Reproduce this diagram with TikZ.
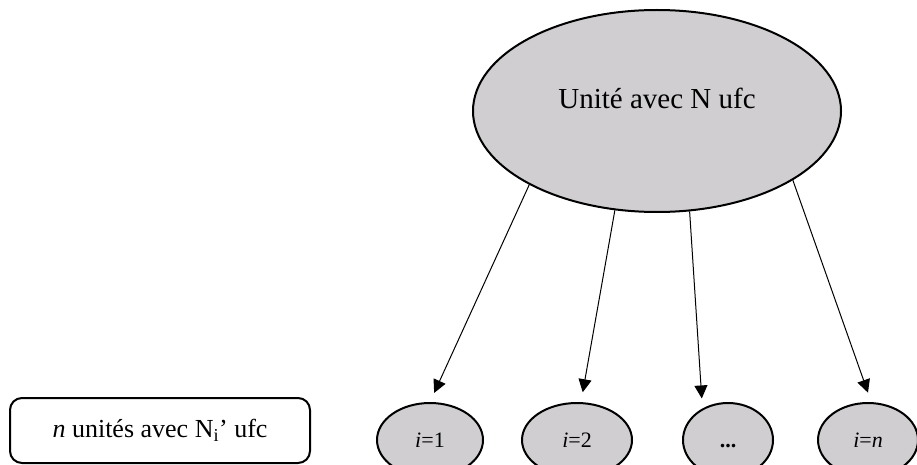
\documentclass[tikz,border=0pt]{standalone}
\usepackage{fontspec}
\setmainfont{Liberation Serif}
\usetikzlibrary{shapes.geometric,arrows.meta}

\definecolor{cellgray}{RGB}{208,206,209}

\tikzset{
  unitell/.style={ellipse, draw=black, fill=cellgray, line width=2pt, inner sep=0pt},
  bigell/.style={unitell, minimum width=368pt, minimum height=202pt},
  smallell/.style={unitell, minimum height=74pt,
    font=\fontsize{22}{26}\selectfont, text height=15pt, text depth=0pt},
  legendbox/.style={draw=black, line width=2pt, rounded corners=12pt,
    minimum width=300pt, minimum height=65pt, inner sep=0pt,
    font=\fontsize{26}{30}\selectfont},
  split/.style={line width=1pt, -{Triangle[length=13pt,width=13pt]}, shorten >=10pt}
}

\begin{document}
\begin{tikzpicture}[x=1pt, y=-1pt]
  \useasboundingbox (0,0) rectangle (917,465);
  \clip (0,0) rectangle (917,465);

  % parent unit
  \node[bigell, label={[yshift=13pt, font=\fontsize{29}{34}\selectfont]center:Unité avec N ufc}]
    (big) at (657,111) {};

  % the n sub-units
  \node[smallell, minimum width=106pt] (e1) at (430,440) {\textit{i}=1};
  \node[smallell, minimum width=110pt] (e2) at (577,440) {\textit{i}=2};
  \node[smallell, minimum width=90pt]  (e3) at (728,440) {\textbf{...}};
  \node[smallell, minimum width=100pt] (e4) at (868,440) {\textit{i}=\textit{n}};

  % legend
  \node[legendbox] (legend) at (160,430.5)
    {\textit{n} unités avec N\textsubscript{i}’ ufc};

  % splitting arrows
  \draw[split] (big.210.5) -- (e1.north);
  \draw[split] (big.247.7) -- (e2.84);
  \draw[split] (big.288.3) -- (e3.129);
  \draw[split] (big.333.9) -- (e4.85);
\end{tikzpicture}
\end{document}
